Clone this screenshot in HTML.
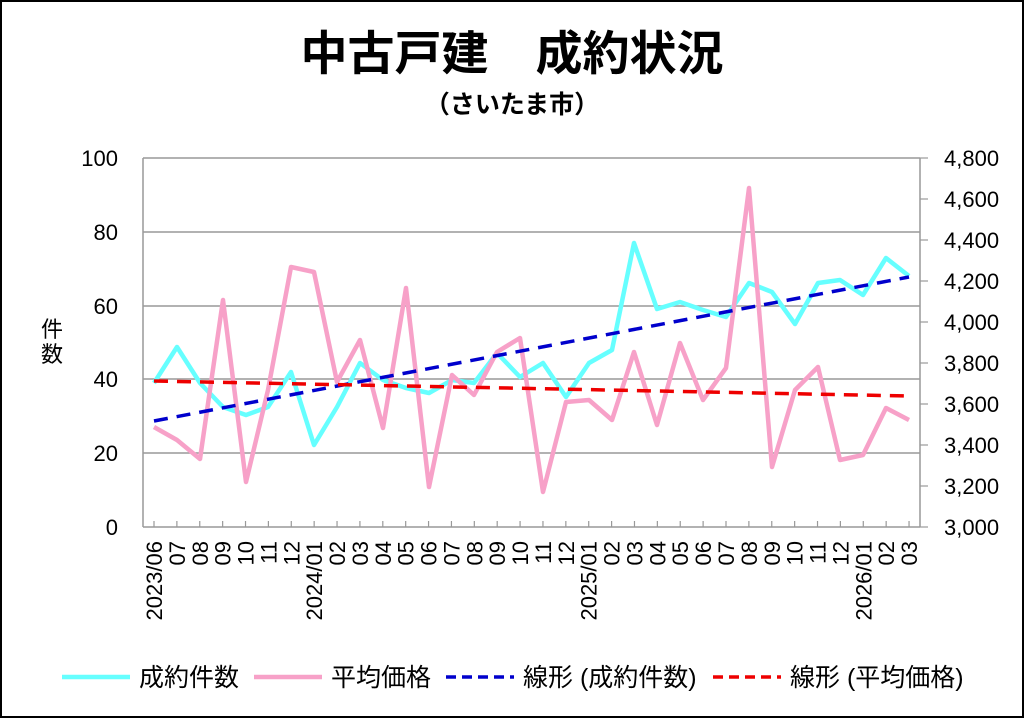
<!DOCTYPE html>
<html><head><meta charset="utf-8"><style>
body{margin:0;background:#fff}
svg text{font-family:"Liberation Sans","Noto Sans CJK JP",sans-serif}
</style></head><body>
<svg width="1024" height="718" viewBox="0 0 1024 718" xmlns="http://www.w3.org/2000/svg">
<rect x="1" y="1" width="1022" height="716" fill="#fff" stroke="#000" stroke-width="2"/>
<text x="512" y="70" text-anchor="middle" font-size="47" font-weight="bold">中古戸建　成約状況</text>
<text x="512" y="113" text-anchor="middle" font-size="25" font-weight="bold">（さいたま市）</text>
<g stroke="#999" stroke-width="1.5">
<line x1="143" y1="158" x2="920" y2="158"/>
<line x1="143" y1="232" x2="920" y2="232"/>
<line x1="143" y1="306" x2="920" y2="306"/>
<line x1="143" y1="379" x2="920" y2="379"/>
<line x1="143" y1="453" x2="920" y2="453"/>
<line x1="143" y1="158" x2="143" y2="527"/>
<line x1="920" y1="158" x2="920" y2="527"/>
<line x1="143" y1="527" x2="920" y2="527"/>
</g>
<g stroke="#999" stroke-width="1.2" id="ticks"></g>
<g font-size="22" fill="#000">
<text x="118" y="166" text-anchor="end">100</text>
<text x="118" y="240" text-anchor="end">80</text>
<text x="118" y="314" text-anchor="end">60</text>
<text x="118" y="387" text-anchor="end">40</text>
<text x="118" y="461" text-anchor="end">20</text>
<text x="118" y="535" text-anchor="end">0</text>
<text x="944" y="166">4,800</text>
<text x="944" y="207">4,600</text>
<text x="944" y="248">4,400</text>
<text x="944" y="289">4,200</text>
<text x="944" y="330">4,000</text>
<text x="944" y="371">3,800</text>
<text x="944" y="412">3,600</text>
<text x="944" y="453">3,400</text>
<text x="944" y="494">3,200</text>
<text x="944" y="535">3,000</text>
<text x="52" y="337" text-anchor="middle">件</text>
<text x="52" y="362" text-anchor="middle">数</text>
</g>
<g id="xl" font-size="22"></g>
<polyline fill="none" stroke="#66ffff" stroke-width="4.5" stroke-linejoin="round" points="154,383 177,347 200,383 223,407 246,415 268,407 291,372 314,445 337,407 360,363 383,380 406,388 429,393 452,380 474,383 497,353 520,377 543,363 566,397 589,363 612,350 634,243 657,309 680,302 703,310 726,317 749,283 772,292 795,324 818,283 840,280 863,295 886,258 909,276"/>
<polyline fill="none" stroke="#f7a1c8" stroke-width="4.5" stroke-linejoin="round" points="154,427 177,440 200,459 223,300 246,482 268,390 291,267 314,272 337,382 360,340 383,428 406,288 429,487 452,375 474,395 497,352 520,338 543,492 566,402 589,400 612,420 634,352 657,425 680,343 703,400 726,368 749,188 772,467 795,390 818,367 840,460 863,455 886,408 909,420"/>
<line x1="154" y1="421" x2="909" y2="277" stroke="#0000cc" stroke-width="3.5" stroke-dasharray="14,9"/>
<line x1="154" y1="381" x2="909" y2="396" stroke="#ee0000" stroke-width="3.5" stroke-dasharray="14,9"/>
<g font-size="25">
<line x1="62" y1="677" x2="130" y2="677" stroke="#66ffff" stroke-width="4.5"/>
<text x="139" y="686">成約件数</text>
<line x1="254" y1="677" x2="322" y2="677" stroke="#f7a1c8" stroke-width="4.5"/>
<text x="331" y="686">平均価格</text>
<line x1="446" y1="677" x2="514" y2="677" stroke="#0000cc" stroke-width="3.5" stroke-dasharray="10,6"/>
<text x="523" y="686">線形 (成約件数)</text>
<line x1="713" y1="677" x2="781" y2="677" stroke="#ee0000" stroke-width="3.5" stroke-dasharray="10,6"/>
<text x="790" y="686">線形 (平均価格)</text>
</g>
<script>
var t=document.getElementById('ticks'),xl=document.getElementById('xl'),ns='http://www.w3.org/2000/svg';
var labs=[];var m=6,y=2023;for(var i=0;i<34;i++){var mm=(m<10?'0':'')+m;labs.push((m==6&&y==2023)||m==1?y+'/'+mm:mm);m++;if(m>12){m=1;y++;}}
for(var i=0;i<34;i++){var x=154+22.88*i;var l=document.createElementNS(ns,'line');l.setAttribute('x1',x);l.setAttribute('x2',x);l.setAttribute('y1',521);l.setAttribute('y2',527);t.appendChild(l);
var tx=document.createElementNS(ns,'text');tx.setAttribute('transform','translate('+(x+8)+',541) rotate(-90)');tx.setAttribute('text-anchor','end');tx.textContent=labs[i];xl.appendChild(tx);}
for(var k=0;k<10;k++){var yy=158+k*41;var l=document.createElementNS(ns,'line');l.setAttribute('x1',920);l.setAttribute('x2',928);l.setAttribute('y1',yy);l.setAttribute('y2',yy);t.appendChild(l);}
</script>
</svg>
</body></html>
